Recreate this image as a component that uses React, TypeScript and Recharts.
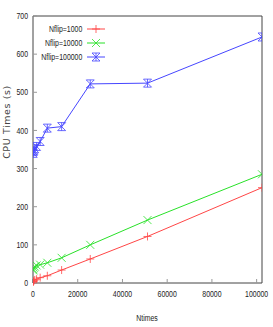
import React from 'react';
import { LineChart, Line, XAxis, YAxis } from 'recharts';

const ntimes = [100, 200, 400, 800, 1600, 3200, 6400, 12800, 25600, 51200, 102400];
const nflip1000 = [3, 4, 6, 8, 10, 14, 19, 34, 63, 122, 250];
const nflip10000 = [33, 36, 40, 43, 46, 48, 53, 66, 100, 165, 285];
const nflip100000 = [340, 345, 348, 352, 358, 371, 406, 410, 522, 524, 645];
const xTicks = [0, 20000, 40000, 60000, 80000, 100000];
const yTicks = [0, 100, 200, 300, 400, 500, 600, 700];
const seriesNames = ['Nflip=1000', 'Nflip=10000', 'Nflip=100000'];

const colors = ['rgb(255,70,70)', 'rgb(40,225,40)', 'rgb(70,70,255)'];
const font = "'Liberation Sans', Arial, sans-serif";
const SX = 0.77;

const toData = (ys: number[]) => ntimes.map((x, i) => ({ x, y: ys[i] }));
const allSeries = [nflip1000, nflip10000, nflip100000].map(toData);

type MP = { cx?: number; cy?: number; kind: number; color: string };
const Marker = ({ cx, cy, kind, color }: MP) => {
  if (cx == null || cy == null) return null;
  const r = 4;
  let d = '';
  if (kind === 0) d = `M${cx - r},${cy}h${2 * r}M${cx},${cy - r}v${2 * r}`;
  else if (kind === 1) d = `M${cx - r},${cy - r}l${2 * r},${2 * r}M${cx - r},${cy + r}l${2 * r},${-2 * r}`;
  else d = `M${cx - r},${cy - r}l${2 * r},${2 * r}M${cx - r},${cy + r}l${2 * r},${-2 * r}M${cx},${cy - r}v${2 * r}M${cx - r},${cy - r}h${2 * r}M${cx - r},${cy + r}h${2 * r}`;
  return <path d={d} stroke={color} strokeWidth={1} fill="none" opacity={0.8} />;
};

const NarrowText = ({ x, y, anchor, children, dy }: any) => (
  <text
    transform={`translate(${x},${y}) scale(${SX},1)`}
    x={0}
    y={0}
    dy={dy}
    textAnchor={anchor}
    style={{ fontFamily: font, fontSize: 9, fill: '#222' }}
  >
    {children}
  </text>
);

const XTick = (p: any) => (
  <NarrowText x={p.x} y={p.y} anchor="middle" dy="0.71em">
    {p.payload.value}
  </NarrowText>
);
const YTick = (p: any) => (
  <NarrowText x={p.x} y={p.y} anchor="end" dy="0.355em">
    {p.payload.value}
  </NarrowText>
);

const LegendBox = () => (
  <div style={{ position: 'absolute', left: 0, top: 22, fontFamily: font, fontSize: 9, color: '#222', lineHeight: '14px' }}>
    {seriesNames.map((n, i) => (
      <div key={n} style={{ display: 'flex', alignItems: 'center', height: 14 }}>
        <div style={{ width: 82, textAlign: 'right', whiteSpace: 'nowrap' }}>
          <span style={{ display: 'inline-block', transform: `scaleX(${SX})`, transformOrigin: 'right center' }}>{n}</span>
        </div>
        <svg width={26} height={14} style={{ marginLeft: 4, display: 'block' }}>
          <line x1={1} y1={7} x2={19} y2={7} stroke={colors[i]} strokeWidth={1} />
          <Marker cx={10} cy={7} kind={i} color={colors[i]} />
        </svg>
      </div>
    ))}
  </div>
);

const axisColor = '#444';
const tickColor = '#999';

export default function App() {
  return (
    <div style={{ position: 'absolute', left: 0, top: 0, width: 273, height: 327, background: '#fff' }}>
      <LineChart width={273} height={327} margin={{ top: 15, right: 10, bottom: 0, left: 0 }}>
        <XAxis
          xAxisId="b"
          type="number"
          dataKey="x"
          domain={[0, 102400]}
          ticks={xTicks}
          allowDataOverflow
          height={44}
          tickSize={-4}
          tickMargin={12}
          axisLine={{ stroke: axisColor }}
          tickLine={{ stroke: tickColor }}
          tick={<XTick />}
          interval={0}
          label={{
            content: () => (
              <NarrowText x={147} y={321} anchor="middle">
                Ntimes
              </NarrowText>
            ),
          }}
        />
        <XAxis
          xAxisId="t"
          orientation="top"
          type="number"
          dataKey="x"
          domain={[0, 102400]}
          ticks={xTicks}
          allowDataOverflow
          height={1}
          tickSize={-4}
          axisLine={{ stroke: axisColor }}
          tickLine={{ stroke: tickColor }}
          tick={false}
          interval={0}
        />
        <YAxis
          yAxisId="l"
          type="number"
          domain={[0, 700]}
          ticks={yTicks}
          width={33}
          tickSize={-4}
          tickMargin={9}
          axisLine={{ stroke: axisColor }}
          tickLine={{ stroke: tickColor }}
          tick={<YTick />}
          interval={0}
          label={{
            content: () => (
              <text
                x={10}
                y={122}
                transform="rotate(-90 10 122)"
                textAnchor="middle"
                style={{ fontFamily: "'DejaVu Sans', sans-serif", fontSize: 9.5, fill: '#444', letterSpacing: 0.6 }}
              >
                CPU Times (s)
              </text>
            ),
          }}
        />
        <YAxis
          yAxisId="r"
          orientation="right"
          type="number"
          domain={[0, 700]}
          ticks={yTicks}
          width={1}
          tickSize={-4}
          axisLine={{ stroke: axisColor }}
          tickLine={{ stroke: tickColor }}
          tick={false}
          interval={0}
        />
        {allSeries.map((data, i) => (
          <Line
            key={seriesNames[i]}
            xAxisId="b"
            yAxisId="l"
            data={data}
            dataKey="y"
            name={seriesNames[i]}
            type="linear"
            stroke={colors[i]}
            strokeWidth={1}
            isAnimationActive={false}
            dot={(p: any) => <Marker key={`${i}-${p.index}`} cx={p.cx} cy={p.cy} kind={i} color={colors[i]} />}
            activeDot={false}
          />
        ))}
      </LineChart>
      <LegendBox />
    </div>
  );
}
